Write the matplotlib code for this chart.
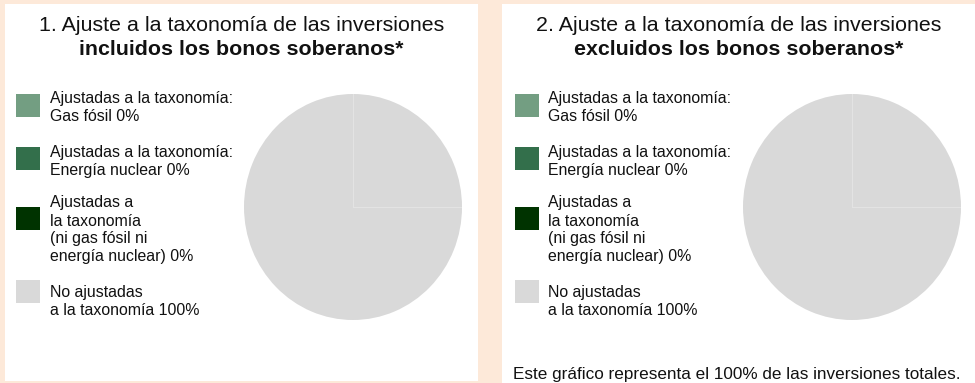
import matplotlib
matplotlib.use("Agg")
import matplotlib.pyplot as plt
from matplotlib.patches import Rectangle

W, H = 975, 383
DPI = 100

plt.rcParams['font.family'] = ['Liberation Sans', 'DejaVu Sans']

# data
categories = [
    "Ajustadas a la taxonomía:\nGas fósil",
    "Ajustadas a la taxonomía:\nEnergía nuclear",
    "Ajustadas a\nla taxonomía\n(ni gas fósil ni\nenergía nuclear)",
    "No ajustadas\na la taxonomía",
]
colors = ['#739e82', '#336f4b', '#003300', '#d9d9d9']
incl_sovereign = [0, 0, 0, 100]
excl_sovereign = [0, 0, 0, 100]
titles = ["1. Ajuste a la taxonomía de las inversiones",
          "2. Ajuste a la taxonomía de las inversiones"]
subtitles = ["incluidos los bonos soberanos*",
             "excluidos los bonos soberanos*"]
footnote = "Este gráfico representa el 100% de las inversiones totales."

BG = '#fde9d9'
TITLE_PT = 15.4
TEXT_PT = 11.4
NOTE_PT = 12.3
EDGE = '#e4e4e4'


def fx(x):
    return x / W


def fy(y):
    return 1 - y / H


def draw_panel(fig, left, right, bottom, sq_x, pie_left, values, title, subtitle):
    fig.patches.append(Rectangle((fx(left), fy(bottom)), fx(right - left),
                                 (bottom - 4) / H, transform=fig.transFigure,
                                 facecolor='white', edgecolor='none', zorder=-5))
    cx = (left + right) / 2
    fig.text(fx(cx), fy(31), title, ha='center', va='baseline',
             fontsize=TITLE_PT, color='#111111')
    fig.text(fx(cx), fy(55), subtitle, ha='center', va='baseline',
             fontsize=TITLE_PT, fontweight='bold', color='#111111')

    # legend: coloured squares, labels placed by the baseline of their last line
    sq_tops = [94, 147, 207, 280]
    last_baselines = [121, 175.5, 261.5, 315]
    for label, val, col, top, base in zip(categories, values, colors,
                                          sq_tops, last_baselines):
        fig.patches.append(Rectangle((fx(sq_x), fy(top + 23)), fx(23.5), 23 / H,
                                     transform=fig.transFigure,
                                     facecolor=col, edgecolor='none', zorder=1))
        fig.text(fx(sq_x + 33.5), fy(base), f"{label} {val}%", ha='left',
                 va='baseline', fontsize=TEXT_PT, linespacing=1.25,
                 color='#111111')

    ax = fig.add_axes([fx(pie_left), fy(320), fx(218), 226 / H], zorder=2)
    ax.pie(values, colors=colors, startangle=90, counterclock=False,
           wedgeprops=dict(edgecolor='none', linewidth=0))
    # faint slice borders at 12 and 3 o'clock
    ax.plot([0, 0], [0, 1], color=EDGE, linewidth=0.7)
    ax.plot([0, 1], [0, 0], color=EDGE, linewidth=0.7)
    ax.set_aspect('auto')
    ax.set_xlim(-1.0, 1.0)
    ax.set_ylim(-1.0, 1.0)
    ax.axis('off')
    return ax


fig = plt.figure(figsize=(W / DPI, H / DPI), dpi=DPI, facecolor=BG)

draw_panel(fig, 5, 478, 381, 16, 244, incl_sovereign, titles[0], subtitles[0])
draw_panel(fig, 502, 975, 383, 515, 743, excl_sovereign, titles[1], subtitles[1])

fig.text(fx(513), fy(379), footnote, ha='left', va='baseline',
         fontsize=NOTE_PT, color='#111111')

fig.savefig('out.png', dpi=DPI, facecolor=BG)
